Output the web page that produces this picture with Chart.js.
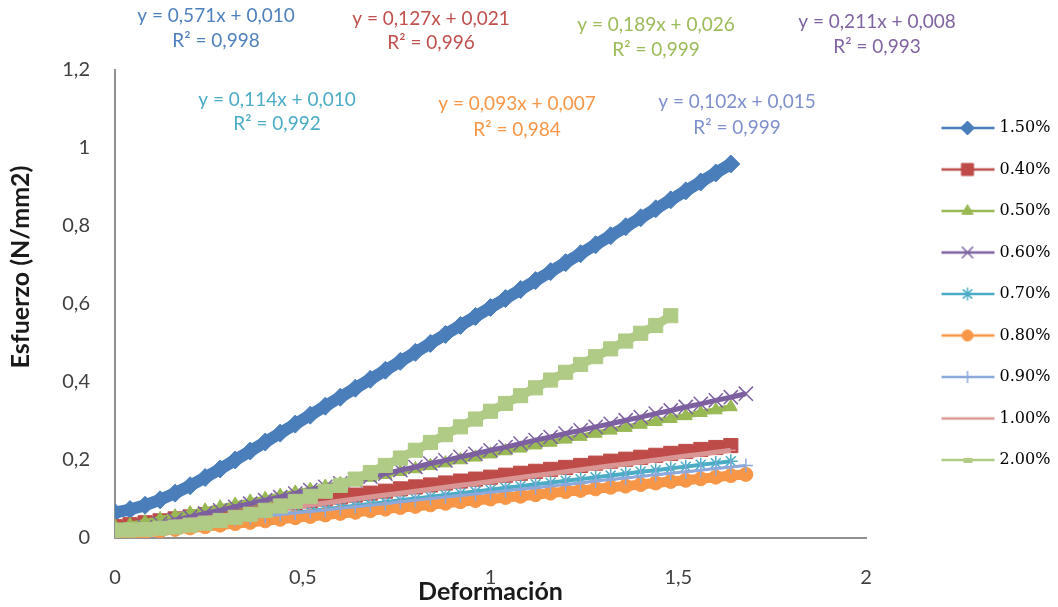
<!DOCTYPE html>
<html>
<head>
<meta charset="utf-8">
<title>Esfuerzo vs deformacion</title>
<script src="https://cdn.jsdelivr.net/npm/chart.js@4.4.1/dist/chart.umd.min.js"></script>
<style>
  html, body { margin: 0; padding: 0; background: #fff; }
  #wrap { width: 1058px; height: 607px; }
</style>
</head>
<body>
<div id="wrap"><canvas id="grafica" width="1058" height="607"></canvas></div>
<script>
// deformacion (eje x), comun a todas las series
const deformacion = [0, 0.04, 0.08, 0.12, 0.16, 0.2, 0.24, 0.28, 0.32, 0.36, 0.4, 0.44, 0.48, 0.52, 0.56,
  0.6, 0.64, 0.68, 0.72, 0.76, 0.8, 0.84, 0.88, 0.92, 0.96, 1, 1.04, 1.08, 1.12, 1.16, 1.2, 1.24, 1.28,
  1.32, 1.36, 1.4, 1.44, 1.48, 1.52, 1.56, 1.6, 1.64, 1.68, 1.72];

// esfuerzo (N/mm2) por serie
const s150 = [0.065, 0.073, 0.084, 0.098, 0.115, 0.134, 0.155, 0.177, 0.2, 0.223, 0.246, 0.269, 0.292,
  0.315, 0.338, 0.361, 0.384, 0.407, 0.43, 0.453, 0.476, 0.499, 0.522, 0.545, 0.568, 0.591, 0.614, 0.637,
  0.66, 0.683, 0.706, 0.729, 0.752, 0.775, 0.798, 0.821, 0.844, 0.867, 0.89, 0.913, 0.936, 0.959];
const s040 = [0.029, 0.034, 0.039, 0.044, 0.049, 0.054, 0.06, 0.065, 0.07, 0.075, 0.08, 0.085, 0.09, 0.095,
  0.1, 0.105, 0.11, 0.115, 0.12, 0.126, 0.131, 0.136, 0.141, 0.146, 0.151, 0.156, 0.161, 0.166, 0.171,
  0.176, 0.181, 0.186, 0.192, 0.197, 0.202, 0.207, 0.212, 0.217, 0.222, 0.227, 0.232, 0.237];
const s050 = [0.03, 0.034, 0.041, 0.049, 0.056, 0.064, 0.071, 0.079, 0.086, 0.094, 0.101, 0.109, 0.117,
  0.124, 0.132, 0.139, 0.147, 0.155, 0.162, 0.17, 0.177, 0.185, 0.192, 0.2, 0.207, 0.215, 0.223, 0.23,
  0.238, 0.245, 0.253, 0.26, 0.268, 0.276, 0.283, 0.291, 0.298, 0.306, 0.313, 0.321, 0.328, 0.336];
const s060 = [0.012, 0.02, 0.028, 0.037, 0.046, 0.054, 0.063, 0.071, 0.08, 0.088, 0.097, 0.105, 0.114,
  0.123, 0.131, 0.14, 0.148, 0.157, 0.165, 0.174, 0.182, 0.191, 0.199, 0.208, 0.216, 0.225, 0.233, 0.242,
  0.251, 0.259, 0.268, 0.276, 0.285, 0.293, 0.302, 0.31, 0.319, 0.327, 0.336, 0.344, 0.353, 0.361, 0.37];
const s070 = [0.012, 0.016, 0.02, 0.024, 0.028, 0.033, 0.037, 0.042, 0.046, 0.051, 0.055, 0.06, 0.065,
  0.069, 0.074, 0.078, 0.083, 0.087, 0.092, 0.097, 0.101, 0.106, 0.11, 0.115, 0.119, 0.124, 0.129, 0.133,
  0.138, 0.142, 0.147, 0.151, 0.156, 0.16, 0.165, 0.17, 0.174, 0.179, 0.183, 0.188, 0.192, 0.197];
const s080 = [0.005, 0.01, 0.014, 0.018, 0.022, 0.026, 0.029, 0.033, 0.037, 0.04, 0.044, 0.048, 0.052,
  0.055, 0.059, 0.063, 0.066, 0.07, 0.074, 0.078, 0.081, 0.085, 0.089, 0.093, 0.096, 0.1, 0.104, 0.107,
  0.111, 0.115, 0.119, 0.122, 0.126, 0.13, 0.133, 0.137, 0.141, 0.145, 0.148, 0.152, 0.156, 0.16, 0.163];
const s090 = [0.015, 0.019, 0.023, 0.027, 0.031, 0.035, 0.039, 0.044, 0.048, 0.052, 0.056, 0.06, 0.064,
  0.068, 0.072, 0.076, 0.08, 0.084, 0.088, 0.093, 0.097, 0.101, 0.105, 0.109, 0.113, 0.117, 0.121, 0.125,
  0.129, 0.133, 0.137, 0.141, 0.146, 0.15, 0.154, 0.158, 0.162, 0.166, 0.17, 0.174, 0.178, 0.182, 0.186];
const s100 = [0.02, 0.025, 0.03, 0.035, 0.04, 0.045, 0.05, 0.055, 0.06, 0.065, 0.07, 0.075, 0.08, 0.085,
  0.09, 0.095, 0.1, 0.105, 0.11, 0.115, 0.12, 0.125, 0.13, 0.135, 0.14, 0.145, 0.15, 0.155, 0.16, 0.165,
  0.17, 0.175, 0.18, 0.185, 0.19, 0.195, 0.2, 0.205, 0.21, 0.215, 0.22, 0.225];
const s200 = [0.02, 0.0205, 0.022, 0.025, 0.028, 0.033, 0.038, 0.045, 0.053, 0.061, 0.071, 0.082, 0.094,
  0.107, 0.12, 0.135, 0.151, 0.168, 0.186, 0.205, 0.225, 0.245, 0.265, 0.285, 0.305, 0.325, 0.345, 0.365,
  0.385, 0.405, 0.425, 0.445, 0.465, 0.485, 0.505, 0.525, 0.545, 0.57];

const etiquetas = ['1.50%', '0.40%', '0.50%', '0.60%', '0.70%', '0.80%', '0.90%', '1.00%', '2.00%'];
const valores = [s150, s040, s050, s060, s070, s080, s090, s100, s200];

// ecuaciones de las lineas de tendencia (serie, texto)
const ecuaciones = [
  [0, 'y = 0,571x + 0,010', 'R² = 0,998'],
  [1, 'y = 0,127x + 0,021', 'R² = 0,996'],
  [2, 'y = 0,189x + 0,026', 'R² = 0,999'],
  [3, 'y = 0,211x + 0,008', 'R² = 0,993'],
  [4, 'y = 0,114x + 0,010', 'R² = 0,992'],
  [5, 'y = 0,093x + 0,007', 'R² = 0,984'],
  [6, 'y = 0,102x + 0,015', 'R² = 0,999']
];

// estilo de cada serie
const colores = ['#4A7EBB', '#BE4B48', '#98B954', '#7D60A0', '#4BACC6', '#F79646', '#8DA8DA', '#D99694', '#B0CB86'];
const coloresTexto = ['#4F81BD', '#C0504D', '#9BBB59', '#8064A2', '#4BACC6', '#F79646', '#7F90CC'];
const marcadores = ['rectRot', 'rect', 'triangle', 'crossRot', 'star', 'circle', 'cross', 'line', 'rect'];
const radios = [9, 10, 7.5, 10, 7, 7, 7, 5, 10];
const grosores = [12, 10, 6, 5, 4, 10, 3, 5, 9];
const radiosLeyenda = [7, 8.5, 6.5, 8, 6.5, 5.5, 6, 4, 0];
// posicion de las etiquetas de ecuacion (centro x, y linea 1, y linea 2)
const posEcuacion = [[216, 16, 41], [431, 19, 43], [656, 25, 50], [877, 22, 47], [277, 100, 124], [517, 104, 130], [737, 102, 128]];

function esRelleno(m) { return m === 'rectRot' || m === 'rect' || m === 'triangle' || m === 'circle'; }

// icono de leyenda: linea con marcador
function iconoLeyenda(i) {
  const c = document.createElement('canvas');
  c.width = 120; c.height = 24;
  const g = c.getContext('2d');
  g.strokeStyle = colores[i];
  g.fillStyle = colores[i];
  g.lineWidth = 2.5;
  g.beginPath();
  g.moveTo(60, 12);
  g.lineTo(113, 12);
  g.stroke();
  if (radiosLeyenda[i] > 0 && Chart.helpers && Chart.helpers.drawPoint) {
    g.lineWidth = esRelleno(marcadores[i]) ? 1 : 1.5;
    Chart.helpers.drawPoint(g, { pointStyle: marcadores[i], rotation: 0, radius: radiosLeyenda[i], borderWidth: g.lineWidth }, 86, 12);
  } else if (i === 8) {
    g.fillRect(82, 10, 9, 5);
  }
  return c;
}
const iconos = etiquetas.map((e, i) => iconoLeyenda(i));

const datasets = etiquetas.map((lab, i) => ({
  label: lab,
  data: valores[i].map((v, k) => ({ x: deformacion[k], y: v })),
  showLine: true,
  borderColor: colores[i],
  backgroundColor: colores[i],
  borderWidth: grosores[i],
  pointStyle: marcadores[i],
  pointRadius: radios[i],
  pointBackgroundColor: colores[i],
  pointBorderColor: colores[i],
  pointBorderWidth: esRelleno(marcadores[i]) ? 1 : 1.5,
  order: etiquetas.length - i
}));

const textosPlugin = {
  id: 'textos',
  afterDraw(chart) {
    const ctx = chart.ctx;
    ctx.save();
    ctx.font = '19px Lato';
    ctx.textAlign = 'center';
    ctx.textBaseline = 'middle';
    ecuaciones.forEach((e, k) => {
      const p = posEcuacion[k];
      ctx.fillStyle = coloresTexto[e[0]];
      ctx.fillText(e[1], p[0], p[1]);
      ctx.fillText(e[2], p[0], p[2]);
    });
    // titulo del eje y
    ctx.translate(21, 267);
    ctx.rotate(-Math.PI / 2);
    ctx.font = 'bold 25px Lato';
    ctx.fillStyle = '#1a1a1a';
    ctx.fillText('Esfuerzo (N/mm2)', 0, 0);
    ctx.restore();
  }
};

const fuenteEje = { family: 'Lato', size: 20 };
const coma = v => String(Math.round(v * 10) / 10).replace('.', ',');

new Chart(document.getElementById('grafica'), {
  type: 'scatter',
  data: { datasets: datasets },
  options: {
    responsive: false,
    animation: false,
    layout: { padding: { top: 70 } },
    plugins: {
      tooltip: { enabled: false },
      legend: {
        position: 'right',
        align: 'start',
        maxWidth: 192,
        title: { display: true, text: ' ', padding: { top: 12.5, bottom: 0 }, font: { size: 10 } },
        labels: {
          usePointStyle: true,
          pointStyleWidth: 100,
          padding: 25.5,
          color: '#000',
          font: { family: 'DejaVu Serif', size: 16 },
          sort: (a, b) => a.datasetIndex - b.datasetIndex,
          generateLabels(chart) {
            const items = Chart.defaults.plugins.legend.labels.generateLabels(chart);
            items.forEach(it => { it.pointStyle = iconos[it.datasetIndex]; });
            return items;
          }
        }
      }
    },
    scales: {
      x: {
        type: 'linear',
        min: 0,
        max: 2,
        ticks: { stepSize: 0.5, padding: 28, color: '#404040', font: fuenteEje, callback: coma },
        grid: { display: false, drawTicks: false },
        border: { color: '#909090', width: 2 },
        title: { display: true, text: 'Deformación', color: '#1a1a1a', font: { family: 'Lato', size: 25, weight: 'bold' }, padding: { top: 0, bottom: 0 } },
        afterFit: s => { s.height = 69; }
      },
      y: {
        min: 0,
        max: 1.2,
        ticks: { stepSize: 0.2, padding: 25, color: '#404040', font: fuenteEje, callback: coma },
        grid: { display: false, drawTicks: false },
        border: { color: '#909090', width: 2 },
        afterFit: s => { s.width = 115; }
      }
    }
  },
  plugins: [textosPlugin]
});
</script>
</body>
</html>
